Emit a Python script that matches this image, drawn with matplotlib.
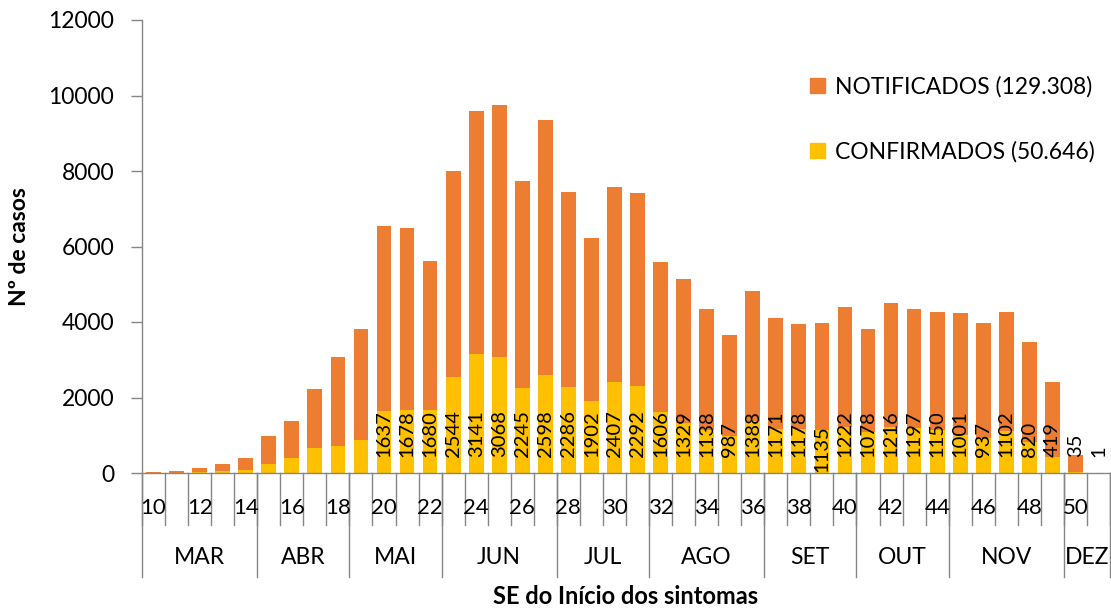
import matplotlib
matplotlib.use('Agg')
import matplotlib.pyplot as plt
from matplotlib.patches import Patch
import matplotlib.transforms as mtransforms
import numpy as np

plt.rcParams['font.family'] = ['Lato', 'DejaVu Sans']

# Semanas epidemiológicas 10..51
weeks = list(range(10, 52))
confirmados = [5, 10, 20, 50, 90, 240, 390, 650, 720, 874,
               1637, 1678, 1680, 2544, 3141, 3068, 2245, 2598, 2286, 1902,
               2407, 2292, 1606, 1329, 1138, 987, 1388, 1171, 1178, 1135,
               1222, 1078, 1216, 1197, 1150, 1001, 937, 1102, 820, 419,
               35, 1]
notificados = [25, 40, 100, 200, 315, 740, 980, 1570, 2340, 2930,
               4913, 4802, 3940, 5456, 6439, 6682, 5485, 6762, 5154, 4318,
               5173, 5128, 3974, 3801, 3212, 2673, 3432, 2939, 2782, 2845,
               3178, 2732, 3294, 3153, 3110, 3249, 3043, 3168, 2650, 1981,
               435, 0]
first_labeled_week = 20
months = ['MAR', 'ABR', 'MAI', 'JUN', 'JUL', 'AGO', 'SET', 'OUT', 'NOV', 'DEZ']
month_sizes = [5, 4, 4, 5, 4, 5, 4, 4, 5, 2]
legend_labels = ['NOTIFICADOS (129.308)', 'CONFIRMADOS (50.646)']

c_not = '#ED7D31'
c_conf = '#FFC000'
gray = '#868686'

W, H = 1111, 608
fig = plt.figure(figsize=(W / 100, H / 100), dpi=100)
ax = fig.add_axes([142 / W, 1 - 473 / H, (1110 - 142) / W, (473 - 20) / H])

x = np.arange(len(weeks))
ax.bar(x, confirmados, 0.64, color=c_conf, zorder=2)
ax.bar(x, notificados, 0.64, bottom=confirmados, color=c_not, zorder=2)

ax.set_xlim(-0.5, len(weeks) - 0.5)
ax.set_ylim(0, 12000)
ax.set_yticks(range(0, 12001, 2000))
ax.tick_params(axis='y', length=8, width=1, color=gray, labelsize=16.5, pad=12)
ax.set_xticks([])
for s in ['top', 'right']:
    ax.spines[s].set_visible(False)
for s in ['left', 'bottom']:
    ax.spines[s].set_color(gray)
    ax.spines[s].set_linewidth(1)

ax.set_ylabel('Nº de casos', fontsize=16.5, fontweight='bold', labelpad=13)

# value labels for confirmed cases
for i, (w, v) in enumerate(zip(weeks, confirmados)):
    if w < first_labeled_week:
        continue
    ybase = 20 if v == 1135 else 420
    ax.text(i, ybase, str(v), rotation=90, ha='center', va='bottom',
            fontsize=14.5, color='black', zorder=3)

# multi-level category axis
trans = mtransforms.blended_transform_factory(ax.transData, ax.transAxes)
axh = 453.0
for k in range(len(weeks) + 1):
    ax.plot([k - 0.5, k - 0.5], [0, -52 / axh], transform=trans,
            color=gray, lw=1, clip_on=False)
for i, w in enumerate(weeks):
    if w % 2 == 0:
        ax.text(i, -35 / axh, str(w), transform=trans, ha='center',
                va='center', fontsize=16)
bounds = np.concatenate([[0], np.cumsum(month_sizes)])
for b in bounds:
    ax.plot([b - 0.5, b - 0.5], [0, -104 / axh], transform=trans,
            color=gray, lw=1, clip_on=False)
for m, b0, b1 in zip(months, bounds[:-1], bounds[1:]):
    ax.text((b0 + b1 - 1) / 2, -85 / axh, m, transform=trans, ha='center',
            va='center', fontsize=16.5)
ax.text(0.5, -124 / axh, 'SE do Início dos sintomas', transform=ax.transAxes,
        ha='center', va='center', fontsize=17, fontweight='bold')

handles = [Patch(color=c_not), Patch(color=c_conf)]
ax.legend(handles, legend_labels, loc='upper left', frameon=False,
          bbox_to_anchor=(810 / W, 1 - 76 / H), bbox_transform=fig.transFigure,
          fontsize=16.5, handlelength=0.65, handleheight=0.65, handletextpad=0.45,
          labelspacing=1.9, borderpad=0, borderaxespad=0)

fig.savefig('out.png', dpi=100)
